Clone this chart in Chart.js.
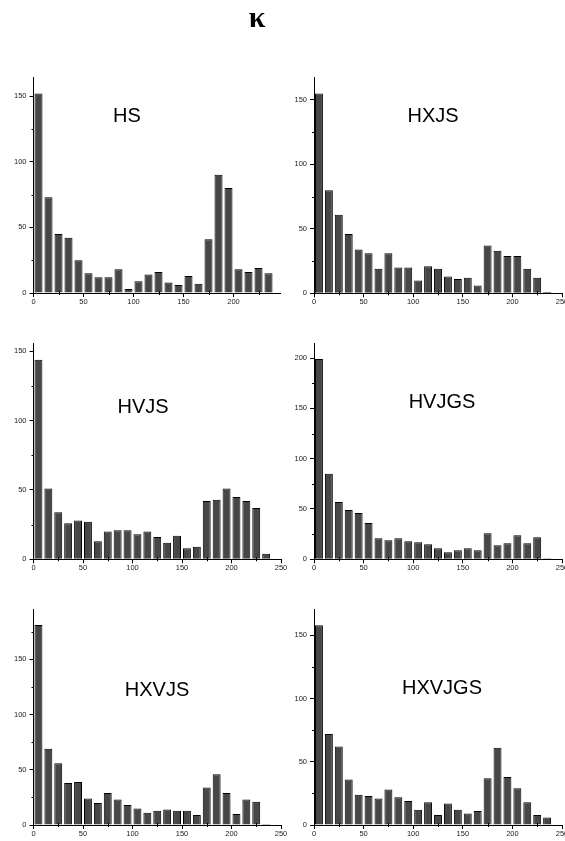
<!DOCTYPE html>
<html>
<head>
<meta charset="utf-8">
<script src="https://cdn.jsdelivr.net/npm/chart.js@4.4.0/dist/chart.umd.min.js"></script>
<style>
  html, body { margin: 0; padding: 0; background: #fff; overflow: hidden; }
  body { width: 565px; height: 841px; position: relative; }
  canvas { position: absolute; left: 0; top: 0; }
</style>
</head>
<body>
<script>
// bin start of each bar (width 10)
const bins = [0, 10, 20, 30, 40, 50, 60, 70, 80, 90, 100, 110, 120, 130, 140, 150, 160, 170, 180, 190, 200, 210, 220, 230];

const hs     = [152, 73, 45, 42, 25, 15, 12, 12, 18, 3, 9, 14, 16, 8, 6, 13, 7, 41, 90, 80, 18, 16, 19, 15];
const hxjs   = [155, 80, 61, 46, 34, 31, 19, 31, 20, 20, 10, 21, 19, 13, 11, 12, 6, 37, 33, 29, 29, 19, 12, 1];
const hvjs   = [144, 51, 34, 26, 28, 27, 13, 20, 21, 21, 18, 20, 16, 12, 17, 8, 9, 42, 43, 51, 45, 42, 37, 4];
const hvjgs  = [199, 85, 57, 49, 46, 36, 21, 19, 21, 18, 17, 15, 11, 7, 9, 11, 9, 26, 14, 16, 24, 16, 22, 1];
const hxvjs  = [181, 69, 56, 38, 39, 24, 20, 29, 23, 18, 15, 11, 13, 14, 13, 13, 9, 34, 46, 29, 10, 23, 21, 1];
const hxvjgs = [158, 72, 62, 36, 24, 23, 21, 28, 22, 19, 12, 18, 8, 17, 12, 9, 11, 37, 61, 38, 29, 18, 8, 6];

const pageTitle = 'κ';
const xTickStep = 50;
const yTickStep = 50;

// plot area of every panel in page pixels: [left, right, top, bottom]
const panels = [
  { name: 'HS',     values: hs,     area: [33.5, 280, 77, 293],    xMax: 246.5, yMax: 164.5, label: [127, 116] },
  { name: 'HXJS',   values: hxjs,   area: [314, 562, 77, 293.3],   xMax: 250,   yMax: 167.8, label: [433, 116] },
  { name: 'HVJS',   values: hvjs,   area: [33.5, 281, 343, 559.3], xMax: 250,   yMax: 156,   label: [143, 407] },
  { name: 'HVJGS',  values: hvjgs,  area: [314, 562, 343, 559.3],  xMax: 250,   yMax: 215,   label: [442, 402] },
  { name: 'HXVJS',  values: hxvjs,  area: [33.5, 281, 609, 825],   xMax: 250,   yMax: 195.5, label: [157, 690] },
  { name: 'HXVJGS', values: hxvjgs, area: [314, 562, 609, 825],    xMax: 250,   yMax: 170.8, label: [442, 688] }
];

const W = 600, H = 841;

// short ticks halfway between the labelled ones
const minorTicks = {
  id: 'minorTicks',
  afterDraw(chart) {
    const { ctx, scales: { x, y } } = chart;
    ctx.save();
    ctx.strokeStyle = '#000';
    ctx.lineWidth = 1;
    ctx.beginPath();
    for (let v = xTickStep / 2; v < x.max; v += xTickStep) {
      const px = Math.round(x.getPixelForValue(v)) + 0.5;
      ctx.moveTo(px, x.top - 2);
      ctx.lineTo(px, x.top + 2);
    }
    for (let v = yTickStep / 2; v < y.max; v += yTickStep) {
      const py = Math.round(y.getPixelForValue(v)) + 0.5;
      ctx.moveTo(y.right - 2, py);
      ctx.lineTo(y.right, py);
    }
    ctx.stroke();
    ctx.restore();
  }
};

// big name written inside the plot, and the page title on the first panel
const panelLabel = {
  id: 'panelLabel',
  afterDraw(chart, args, opts) {
    const ctx = chart.ctx;
    ctx.save();
    ctx.fillStyle = '#000';
    ctx.textAlign = 'center';
    ctx.textBaseline = 'middle';
    ctx.font = '20px "Liberation Sans", Arial, sans-serif';
    ctx.fillText(opts.text, opts.x, opts.y);
    if (opts.title) {
      ctx.font = 'bold 30px "Liberation Serif", "DejaVu Serif", serif';
      ctx.fillText(opts.title, 257, 19);
    }
    ctx.restore();
  }
};

const tickFont = { family: '"Liberation Sans", Arial, sans-serif', size: 7.5 };

panels.forEach((p, k) => {
  const canvas = document.createElement('canvas');
  canvas.width = W;
  canvas.height = H;
  document.body.appendChild(canvas);

  const [left, right, top, bottom] = p.area;

  new Chart(canvas.getContext('2d'), {
    type: 'bar',
    data: {
      datasets: [{
        data: bins.map((b, i) => ({ x: b + 5, y: p.values[i] })),
        backgroundColor: '#474747',
        borderColor: '#000',
        borderWidth: 1,
        borderSkipped: 'bottom',
        barPercentage: 0.8,
        categoryPercentage: 1
      }]
    },
    options: {
      responsive: false,
      animation: false,
      events: [],
      layout: { padding: { left: 0, top: top, right: W - right, bottom: 0 } },
      plugins: {
        legend: { display: false },
        tooltip: { enabled: false },
        panelLabel: { text: p.name, x: p.label[0], y: p.label[1], title: k === 0 ? pageTitle : null }
      },
      scales: {
        x: {
          type: 'linear',
          min: 0,
          max: p.xMax,
          offset: false,
          afterFit: s => { s.height = H - bottom; },
          border: { display: true, color: '#000', width: 1 },
          grid: { drawOnChartArea: false, drawTicks: true, tickLength: 4, color: '#000', offset: false },
          ticks: { stepSize: xTickStep, includeBounds: false, maxRotation: 0, autoSkip: false, padding: 0, color: '#222', font: tickFont }
        },
        y: {
          min: 0,
          max: p.yMax,
          afterFit: s => { s.width = left; },
          border: { display: true, color: '#000', width: 1 },
          grid: { drawOnChartArea: false, drawTicks: true, tickLength: 4, color: '#000' },
          ticks: { stepSize: yTickStep, includeBounds: false, padding: 3, color: '#222', font: tickFont }
        }
      }
    },
    plugins: [minorTicks, panelLabel]
  });
});
</script>
</body>
</html>
